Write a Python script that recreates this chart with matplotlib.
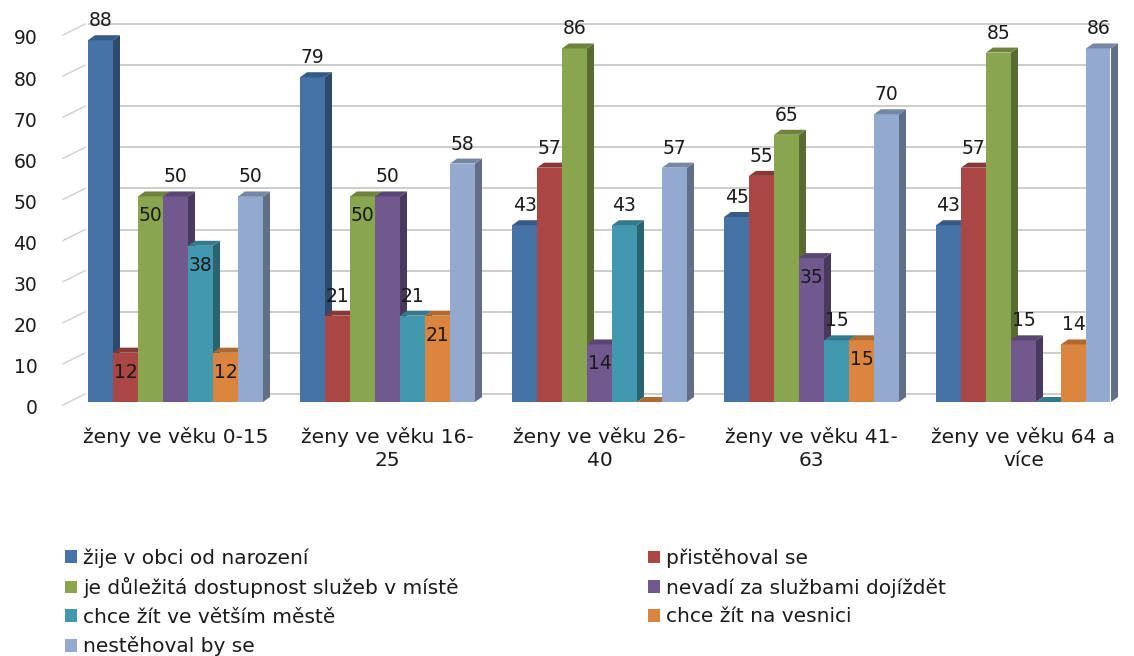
import matplotlib
matplotlib.use("Agg")
import matplotlib.pyplot as plt
from matplotlib.patches import Polygon, Patch
from matplotlib.transforms import ScaledTranslation
import numpy as np

# ---------------- data ----------------
categories = ["ženy ve věku 0-15", "ženy ve věku 16-\n25", "ženy ve věku 26-\n40",
              "ženy ve věku 41-\n63", "ženy ve věku 64 a\nvíce"]
series_names = ["žije v obci od narození", "přistěhoval se",
                "je důležitá dostupnost služeb v místě", "nevadí za službami dojíždět",
                "chce žít ve větším městě", "chce žít na vesnici", "nestěhoval by se"]
v_narozeni = [88, 79, 43, 45, 43]
v_pristehoval = [12, 21, 57, 55, 57]
v_dulezita = [50, 50, 86, 65, 85]
v_nevadi = [50, 50, 14, 35, 15]
v_mesto = [38, 21, 43, 15, 0]
v_vesnice = [12, 21, 0, 15, 14]
v_nestehoval = [50, 58, 57, 70, 86]
y_ticks = [0, 10, 20, 30, 40, 50, 60, 70, 80, 90]

# label placement style (True = label drawn inside the bar top)
lab_narozeni = [False, False, False, False, False]
lab_pristehoval = [True, False, False, False, False]
lab_dulezita = [True, True, False, False, False]
lab_nevadi = [False, False, True, True, False]
lab_mesto = [True, False, False, False, False]
lab_vesnice = [True, True, False, True, False]
lab_nestehoval = [False, False, False, False, False]

series_values = [v_narozeni, v_pristehoval, v_dulezita, v_nevadi, v_mesto, v_vesnice, v_nestehoval]
series_inside = [lab_narozeni, lab_pristehoval, lab_dulezita, lab_nevadi, lab_mesto, lab_vesnice, lab_nestehoval]
colors = ["#4572A7", "#AA4643", "#89A54E", "#71588F", "#4198AF", "#DB843D", "#93A9CF"]

# ---------------- figure ----------------
W, H, DPI = 1134, 656, 100
fig = plt.figure(figsize=(W / DPI, H / DPI), dpi=DPI)
ax_left_px, ax_right_px = 88, 1110
ax_bottom_px, ax_top_px = 402, 32
ax = fig.add_axes([ax_left_px / W, 1 - ax_bottom_px / H,
                   (ax_right_px - ax_left_px) / W, (ax_bottom_px - ax_top_px) / H])

ymax = 90
px_per_y = (ax_bottom_px - ax_top_px) / ymax
px_per_x = 212.0
bar_w = 25 / px_per_x
xlim_left = -(87.5 / px_per_x)
xlim_right = xlim_left + (ax_right_px - ax_left_px) / px_per_x
ax.set_xlim(xlim_left, xlim_right)
ax.set_ylim(0, ymax)
for s in ax.spines.values():
    s.set_visible(False)
ax.patch.set_alpha(0)

def shade(c, f):
    r, g, b = matplotlib.colors.to_rgb(c)
    return (r * f, g * f, b * f)

dx = 7 / px_per_x
dy = 5 / px_per_y
n_series = len(series_values)
gx = np.arange(len(categories))
font = "DejaVu Sans"
num_size = 13.5
txt_size = 14.5
txt_col = "#1a1a1a"

for k, (vals, col, inside) in enumerate(zip(series_values, colors, series_inside)):
    xs = gx + (k - (n_series - 1) / 2) * bar_w
    z = 3 + k * 0.1
    ax.bar(xs, vals, width=bar_w, color=col, zorder=z, linewidth=0)
    for x, v, ins in zip(xs, vals, inside):
        xl, xr = x - bar_w / 2, x + bar_w / 2
        side = Polygon([(xr, 0), (xr + dx, dy), (xr + dx, v + dy), (xr, v)], closed=True,
                       facecolor=shade(col, 0.65), edgecolor="none", zorder=z, clip_on=False)
        top = Polygon([(xl, v), (xl + dx, v + dy), (xr + dx, v + dy), (xr, v)], closed=True,
                      facecolor=shade(col, 0.8), edgecolor="none", zorder=z, clip_on=False)
        ax.add_patch(side)
        ax.add_patch(top)
        if v > 0:
            off = -14 if ins else 14
            ax.annotate(str(v), (x, v), xytext=(0, off), textcoords="offset points",
                        ha="center", va="center", fontsize=num_size, color=txt_col,
                        family=font, zorder=10, annotation_clip=False)

# back-wall gridlines (shifted up to suggest depth)
grid_off = ScaledTranslation(0, 8 / DPI, fig.dpi_scale_trans)
ax.hlines(y_ticks, 0, 1, transform=ax.get_yaxis_transform() + grid_off,
          colors="#C3C3C3", linewidth=1.2, zorder=1, clip_on=False)
# side-wall diagonal ticks
axw_px = ax_right_px - ax_left_px
for v in y_ticks:
    ax.plot([-25 / axw_px, -3 / axw_px], [v - 3 / px_per_y, v + 8 / px_per_y],
            transform=ax.get_yaxis_transform(), color="#D0D0D0", linewidth=1.0,
            clip_on=False, zorder=1)

# y tick labels
ax.set_yticks(y_ticks)
ax.set_yticklabels([str(t) for t in y_ticks], fontsize=num_size, family=font, color=txt_col)
ax.tick_params(axis="y", length=0, pad=36.5)
lab_off = ScaledTranslation(0, -5 / DPI, fig.dpi_scale_trans)
for lab in ax.get_yticklabels():
    lab.set_transform(lab.get_transform() + lab_off)

# x tick labels
ax.set_xticks(gx)
ax.set_xticklabels(categories, fontsize=txt_size, family=font, color=txt_col, linespacing=1.3)
ax.tick_params(axis="x", length=0, pad=18)

# legend: two columns, row-wise order
handles = [Patch(facecolor=c, edgecolor="none") for c in colors]
leg_kw = dict(loc="upper left", frameon=False, prop={"family": font, "size": txt_size},
              handlelength=0.6, handleheight=0.6, handletextpad=0.3,
              labelspacing=0.48, borderaxespad=0, borderpad=0, labelcolor=txt_col)
col1 = [0, 2, 4, 6]
col2 = [1, 3, 5]
leg1 = fig.legend([handles[i] for i in col1], [series_names[i] for i in col1],
                  bbox_to_anchor=(65 / W, 1 - 548 / H), **leg_kw)
leg2 = fig.legend([handles[i] for i in col2], [series_names[i] for i in col2],
                  bbox_to_anchor=(648 / W, 1 - 548 / H), **leg_kw)

fig.savefig("out.png", dpi=DPI)
